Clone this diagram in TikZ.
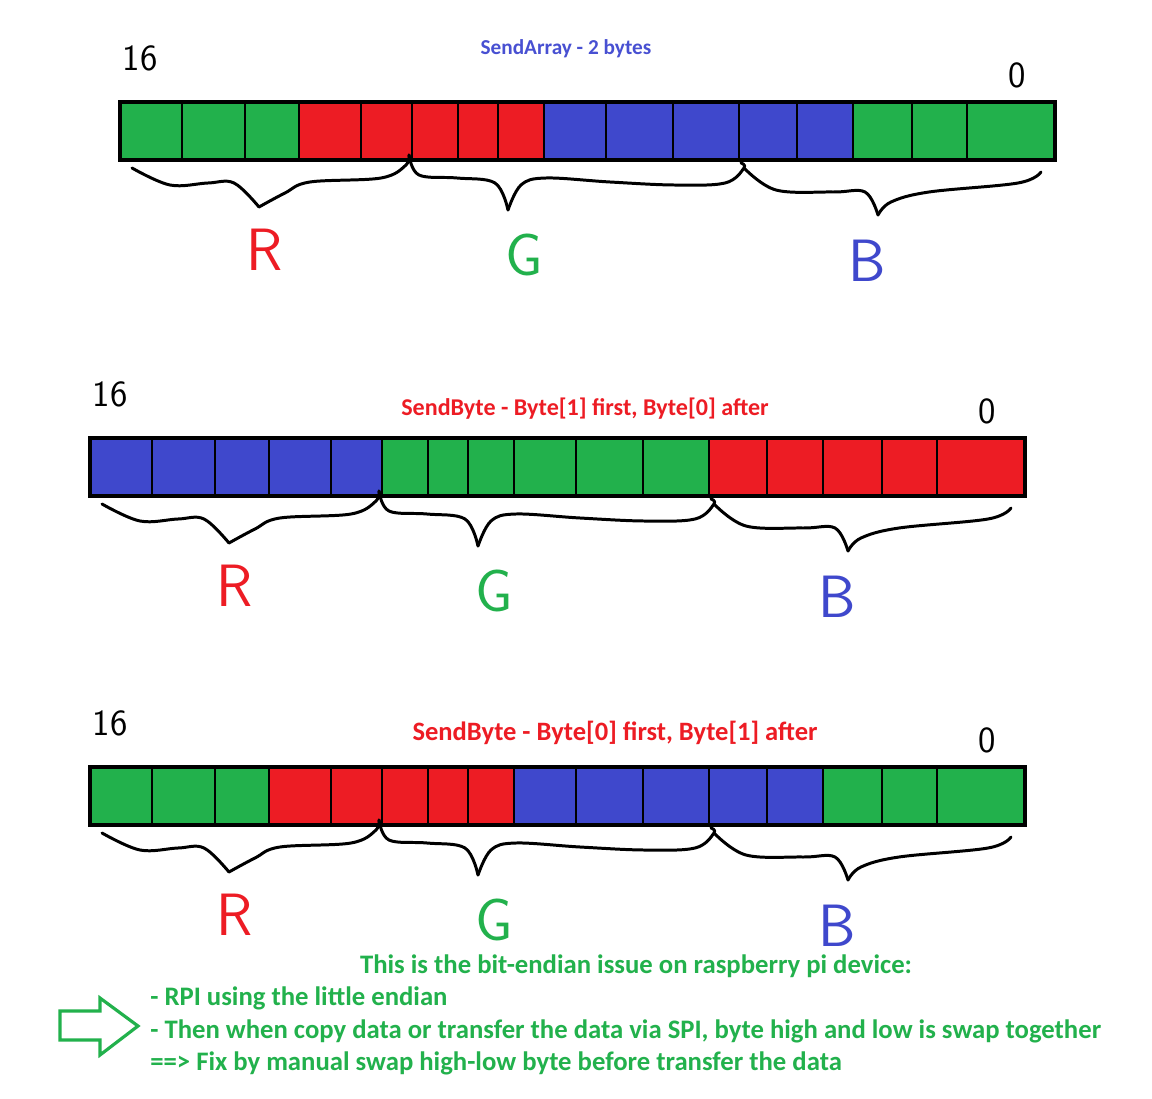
\documentclass[tikz,border=0pt]{standalone}
\usepackage{fontspec}
\setmainfont{Carlito}
\usepackage{tikz}
\definecolor{paintgreen}{RGB}{34,177,76}
\definecolor{paintred}{RGB}{237,28,36}
\definecolor{paintblue}{RGB}{63,72,204}
\definecolor{titleblue}{RGB}{72,80,210}

\tikzset{
  bitframe/.style={line width=2.8pt},
  cutline/.style={line width=1.6pt},
  bracepen/.style={line width=1.7pt, line join=round, line cap=round},
  handtext/.style={font=\sffamily\fontsize{34}{34}\selectfont, inner sep=0pt},
  bitnum/.style={font=\sffamily\fontsize{21}{21}\selectfont, inner sep=0pt},
  caption/.style={font=\bfseries\fontsize{13}{13}\selectfont, inner sep=0pt},
  notetext/.style={font=\bfseries\fontsize{15.2}{15.2}\selectfont, text=paintgreen, inner sep=0pt},
}

% braces and R/G/B letters under one bar (bar-local coordinates)
\newcommand{\rgbbraces}[1]{%
  \draw[bracepen] plot[smooth, tension=0.6] coordinates {(12,66) (50,83) (88,81) (114,81) (139,105)};
  \draw[bracepen] plot[smooth, tension=0.6] coordinates {(139,105) (165,91) (190,80) (261,76) (286,63) (289,53)};
  \draw[bracepen] plot[smooth, tension=0.6] coordinates {(289,53) (299,73) (337,76) (375,81) (388,108)};
  \draw[bracepen] plot[smooth, tension=0.6] coordinates {(388,108) (401,83) (426,76) (490,80) (554,83) (605,81) (624,66) (621,61)};
  \draw[bracepen] plot[smooth, tension=0.6] coordinates {(624,66) (656,88) (713,90) (745,90) (758,113)};
  \draw[bracepen] plot[smooth, tension=0.6] coordinates {(758,113) (771,100) (809,90) (898,81) (921,70)};
  \node[handtext, text=paintred] (r#1) at (145,148) {R};
  \node[handtext, text=paintgreen] (g#1) at (404,153) {G};
  \node[handtext, text=paintblue] (b#1) at (747,159) {B};
  \node[bitnum] (hi#1) at (20,-44) {16};
  \node[bitnum] (lo#1) at (897,-27) {0};
}

\begin{document}
\begin{tikzpicture}[x=0.02cm, y=-0.02cm]
  \useasboundingbox[fill=white] (0,0) rectangle (1152,1098);

  % SendArray
  \node[caption, text=titleblue, font=\bfseries\fontsize{12.1}{12.1}\selectfont] (arraytitle) at (566,49) {SendArray - 2 bytes};
  \begin{scope}[shift={(120,102)}]
    \fill[paintgreen] (0,0) rectangle (179,58);
    \fill[paintred] (179,0) rectangle (424,58);
    \fill[paintblue] (424,0) rectangle (733,58);
    \fill[paintgreen] (733,0) rectangle (935,58);
    \foreach \x in {62,125,179,241,292,338,378,424,486,553,619,677,733,792,847}
      \draw[cutline] (\x,0) -- (\x,58);
    \draw[bitframe] (0,0) rectangle (935,58);
    \rgbbraces{1}
  \end{scope}

  % SendByte, high byte first
  \node[caption, text=paintred, font=\bfseries\fontsize{13.7}{13.7}\selectfont] (bytetitlea) at (585,409) {SendByte - Byte[1] first, Byte[0] after};
  \begin{scope}[shift={(90,438)}]
    \fill[paintblue] (0,0) rectangle (292,58);
    \fill[paintgreen] (292,0) rectangle (619,58);
    \fill[paintred] (619,0) rectangle (935,58);
    \foreach \x in {62,125,179,241,292,338,378,424,486,553,619,677,733,792,847}
      \draw[cutline] (\x,0) -- (\x,58);
    \draw[bitframe] (0,0) rectangle (935,58);
    \rgbbraces{2}
  \end{scope}

  % SendByte, low byte first
  \node[caption, text=paintred, font=\bfseries\fontsize{15.1}{15.1}\selectfont] (bytetitleb) at (615,733) {SendByte - Byte[0] first, Byte[1] after};
  \begin{scope}[shift={(90,767)}]
    \fill[paintgreen] (0,0) rectangle (179,58);
    \fill[paintred] (179,0) rectangle (424,58);
    \fill[paintblue] (424,0) rectangle (733,58);
    \fill[paintgreen] (733,0) rectangle (935,58);
    \foreach \x in {62,125,179,241,292,338,378,424,486,553,619,677,733,792,847}
      \draw[cutline] (\x,0) -- (\x,58);
    \draw[bitframe] (0,0) rectangle (935,58);
    \rgbbraces{3}
  \end{scope}

  % note
  \node[notetext] (notehead) at (636,966) {This is the bit-endian issue on raspberry pi device:};
  \node[notetext, anchor=west] (noteone) at (150,998) {- RPI using the little endian};
  \node[notetext, anchor=west] (notetwo) at (150,1031) {- Then when copy data or transfer the data via SPI, byte high and low is swap together};
  \node[notetext, anchor=west] (notefix) at (150,1063) {==> Fix by manual swap high-low byte before transfer the data};
  \draw[paintgreen, line width=1.8pt] (60,1011) -- (100,1011) -- (100,998) -- (138,1026)
    -- (100,1055) -- (100,1040) -- (60,1040) -- cycle;
\end{tikzpicture}
\end{document}
